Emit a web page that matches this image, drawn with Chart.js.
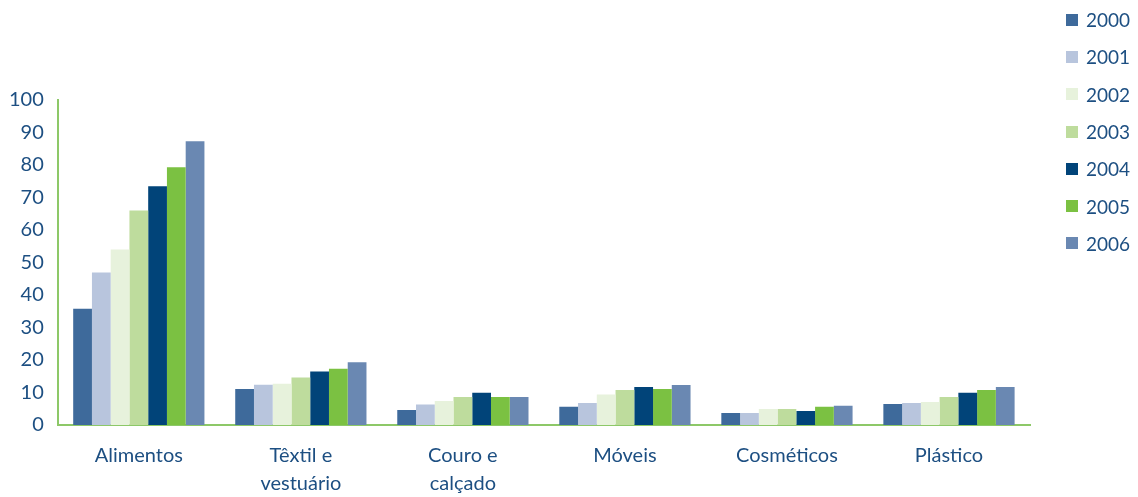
<!DOCTYPE html>
<html>
<head>
<meta charset="utf-8">
<script src="https://cdn.jsdelivr.net/npm/chart.js@4.4.1/dist/chart.umd.min.js"></script>
<style>
  html, body { margin: 0; padding: 0; background: #fff; }
  #wrap { position: relative; width: 1138px; height: 497px; }
  #legend { position: absolute; left: 1066px; top: 1px; font-family: Lato, sans-serif; font-size: 19px; color: #1d4f82; }
  #legend div { height: 37.3px; display: flex; align-items: center; }
  #legend span.box { display: inline-block; width: 12px; height: 12px; margin-right: 8px; }
</style>
</head>
<body>
<div id="wrap">
  <canvas id="chart" width="1138" height="497"></canvas>
  <div id="legend"></div>
</div>
<script>
const categories = ["Alimentos", ["Têxtil e", "vestuário"], ["Couro e", "calçado"], "Móveis", "Cosméticos", "Plástico"];
const years = ["2000", "2001", "2002", "2003", "2004", "2005", "2006"];
const colors = ["#3e6a9b", "#b8c5dd", "#e7f2dc", "#bedc9d", "#014479", "#7bc142", "#6a88b2"];

const v2000 = [35.8, 11.1, 4.6, 5.6, 3.7, 6.5];
const v2001 = [46.9, 12.4, 6.3, 6.8, 3.7, 6.8];
const v2002 = [54.0, 12.7, 7.4, 9.4, 4.9, 7.1];
const v2003 = [66.0, 14.6, 8.6, 10.8, 4.9, 8.6];
const v2004 = [73.5, 16.5, 9.9, 11.7, 4.3, 9.9];
const v2005 = [79.3, 17.3, 8.6, 11.1, 5.6, 10.8];
const v2006 = [87.3, 19.3, 8.6, 12.3, 5.9, 11.7];
const series = [v2000, v2001, v2002, v2003, v2004, v2005, v2006];

const yTicks = [0, 10, 20, 30, 40, 50, 60, 70, 80, 90, 100];

const textColor = "#1d4f82";
const axisColor = "#8dc868";

// legend on the right, built from the same year/colour lists
const legend = document.getElementById("legend");
years.forEach((y, i) => {
  const row = document.createElement("div");
  row.innerHTML = '<span class="box" style="background:' + colors[i] + '"></span>' + y;
  legend.appendChild(row);
});

const ctx = document.getElementById("chart").getContext("2d");
new Chart(ctx, {
  type: "bar",
  data: {
    labels: categories,
    datasets: years.map((y, i) => ({
      label: y,
      data: series[i],
      backgroundColor: colors[i],
      borderWidth: 0,
      barPercentage: 1,
      categoryPercentage: 0.81,
    })),
  },
  options: {
    responsive: false,
    animation: false,
    layout: { padding: { top: 100, right: 108, bottom: -18, left: -5 } },
    plugins: { legend: { display: false }, tooltip: { enabled: false } },
    scales: {
      x: {
        grid: { display: false, drawTicks: false },
        border: { color: axisColor, width: 2 },
        ticks: {
          color: textColor,
          font: { family: "Lato", size: 20, lineHeight: 1.4 },
          padding: 17,
          maxRotation: 0,
        },
      },
      y: {
        min: 0,
        max: 100,
        grid: { display: false, drawTicks: false },
        border: { color: axisColor, width: 2 },
        afterBuildTicks: (axis) => { axis.ticks = yTicks.map((v) => ({ value: v })); },
        ticks: {
          color: textColor,
          font: { family: "Lato", size: 20 },
          padding: 14,
        },
      },
    },
  },
});
</script>
</body>
</html>
